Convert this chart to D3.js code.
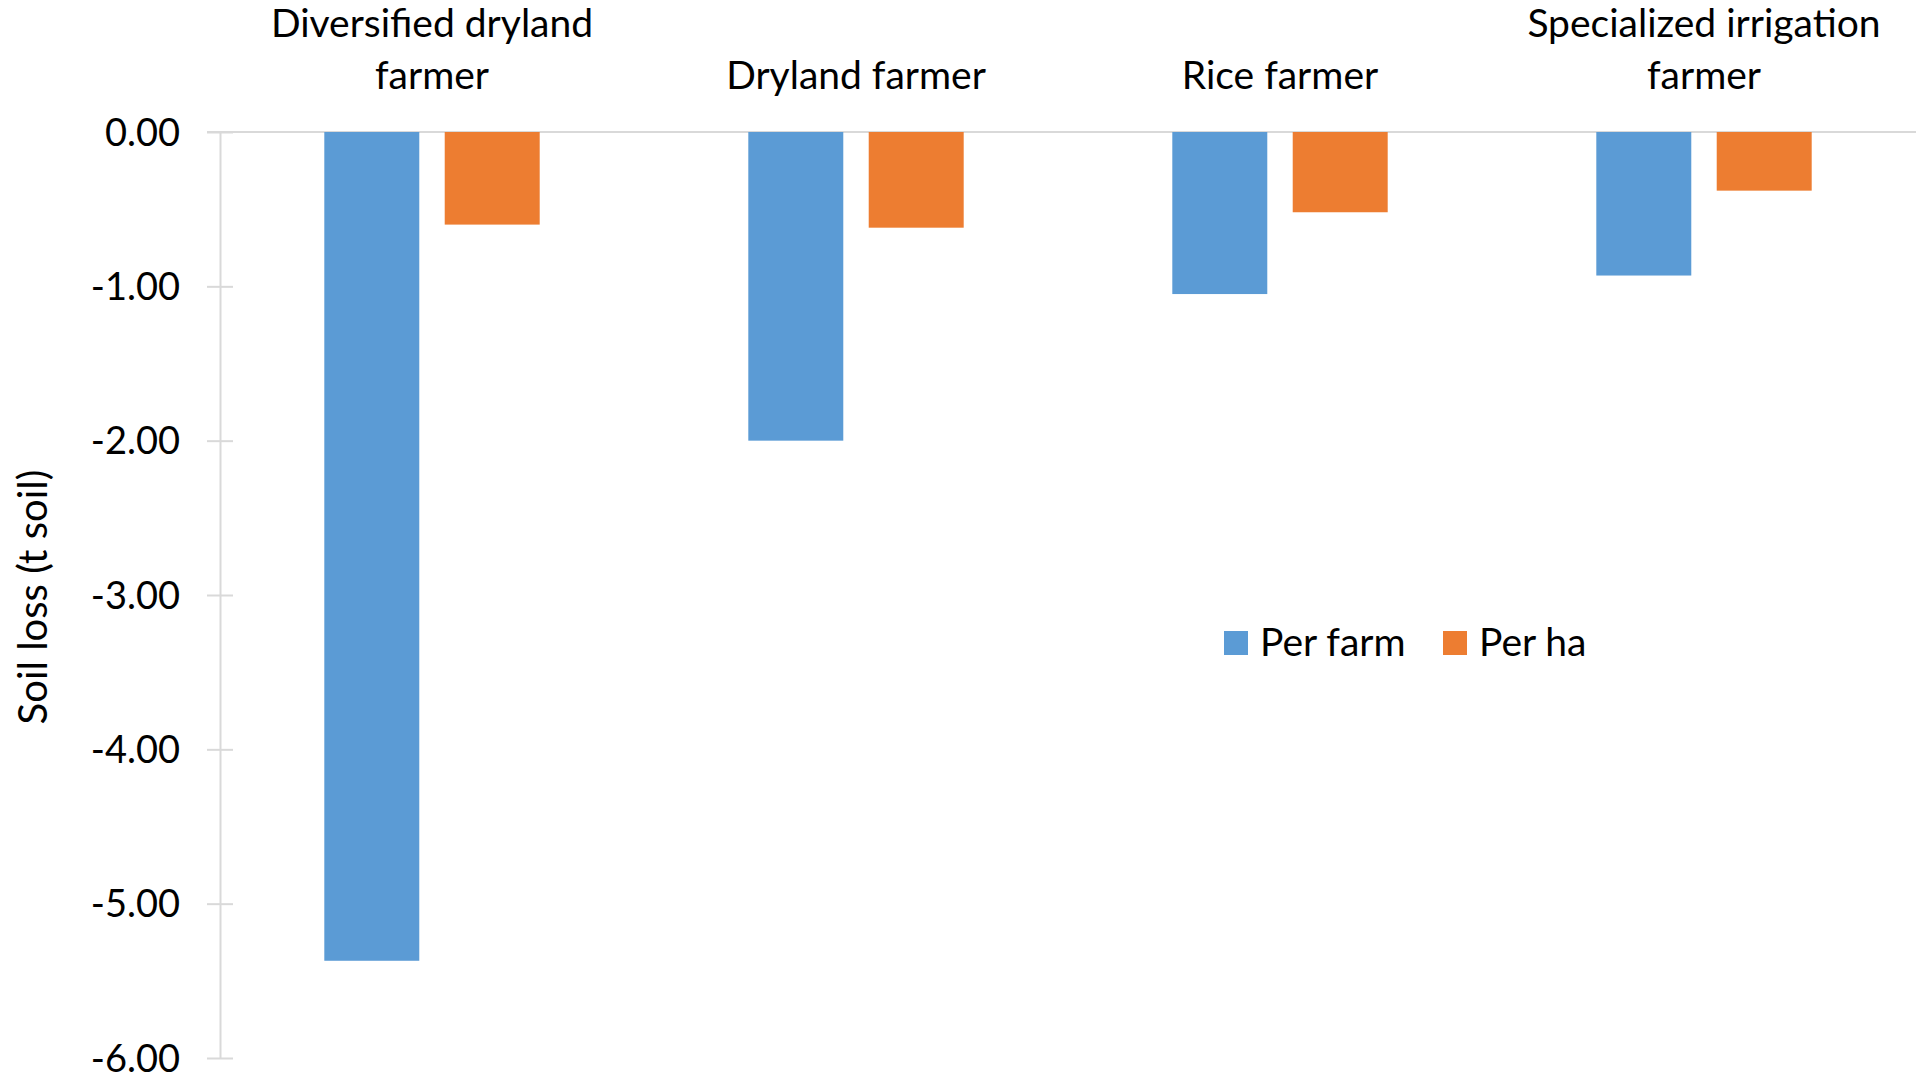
<!DOCTYPE html>
<html>
<head>
<meta charset="utf-8">
<script src="https://cdn.jsdelivr.net/npm/d3@7"></script>
<style>
  html, body { margin: 0; padding: 0; background: #fff; }
  svg { display: block; font-family: Lato, "Open Sans", sans-serif; }
</style>
</head>
<body>
<svg id="chart" width="1916" height="1077"></svg>
<script>
// Soil loss by farm type
const categories = [
  ["Diversified dryland", "farmer"],
  ["Dryland farmer"],
  ["Rice farmer"],
  ["Specialized irrigation", "farmer"]
];
const seriesNames = ["Per farm", "Per ha"];
const perFarm = [-5.37, -2.00, -1.05, -0.93];
const perHa = [-0.60, -0.62, -0.52, -0.38];
const yTicks = [0, -1, -2, -3, -4, -5, -6];
const colors = ["#5B9BD5", "#ED7D31"];

const svg = d3.select("#chart");
const margin = { left: 220, right: 0, top: 132, bottom: 1058 };

const x0 = d3.scaleBand()
  .domain(d3.range(categories.length))
  .range([margin.left, 1916])
  .paddingInner(0).paddingOuter(0);

const y = d3.scaleLinear().domain([0, -6]).range([margin.top, margin.bottom]);

const bw = x0.bandwidth() * 0.224;
const gap = x0.bandwidth() * 0.06;
const x1 = d3.scaleOrdinal().domain([0, 1])
  .range([-(bw + gap / 2), gap / 2]);

const axisColor = "#D9D9D9";
const fmt = v => d3.format(".2f")(v).replace("\u2212", "-");

// vertical axis with crossing ticks
const yAxis = d3.axisLeft(y).tickValues(yTicks).tickSize(0).tickFormat(fmt);
const gY = svg.append("g").attr("transform", `translate(${margin.left},0)`).call(yAxis);
gY.select(".domain").attr("stroke", axisColor).attr("stroke-width", 2);
gY.selectAll(".tick line").remove();
gY.selectAll(".tick").append("line")
  .attr("x1", -13).attr("x2", 13).attr("y1", 0).attr("y2", 0)
  .attr("stroke", axisColor).attr("stroke-width", 2);
gY.selectAll(".tick text")
  .attr("x", -40).attr("dy", "0.35em")
  .attr("fill", "#000").attr("font-size", 38).attr("font-family", "Lato, sans-serif");

// zero line
svg.append("line")
  .attr("x1", margin.left - 13).attr("x2", 1916)
  .attr("y1", y(0)).attr("y2", y(0))
  .attr("stroke", axisColor).attr("stroke-width", 2);

// bars
const data = categories.map((c, i) => ({ i, vals: [perFarm[i], perHa[i]] }));
const groups = svg.append("g").selectAll("g").data(data).join("g")
  .attr("transform", d => `translate(${x0(d.i) + x0.bandwidth() / 2},0)`);
groups.selectAll("rect").data(d => d.vals.map((v, s) => ({ v, s }))).join("rect")
  .attr("x", d => x1(d.s))
  .attr("width", bw)
  .attr("y", d => y(Math.max(0, d.v)))
  .attr("height", d => Math.abs(y(d.v) - y(0)))
  .attr("fill", d => colors[d.s]);

// category labels along the top, bottom-aligned
const catG = svg.append("g");
categories.forEach((lines, i) => {
  const cx = x0(i) + x0.bandwidth() / 2;
  const t = catG.append("text")
    .attr("x", cx).attr("text-anchor", "middle")
    .attr("font-size", 39).attr("fill", "#000");
  lines.forEach((ln, k) => {
    t.append("tspan").attr("x", cx)
      .attr("y", 89 - (lines.length - 1 - k) * 52)
      .text(ln);
  });
});

// y axis title
svg.append("text")
  .attr("transform", "translate(47,597) rotate(-90)")
  .attr("text-anchor", "middle")
  .attr("font-size", 40).attr("fill", "#000")
  .text("Soil loss (t soil)");

// legend
const legend = svg.append("g").attr("transform", "translate(1224,631)");
const legX = [0, 219];
seriesNames.forEach((name, s) => {
  const g = legend.append("g").attr("transform", `translate(${legX[s]},0)`);
  g.append("rect").attr("width", 24).attr("height", 24).attr("fill", colors[s]);
  g.append("text").attr("x", 36).attr("y", 25)
    .attr("font-size", 39).attr("fill", "#000").text(name);
});
</script>
</body>
</html>
